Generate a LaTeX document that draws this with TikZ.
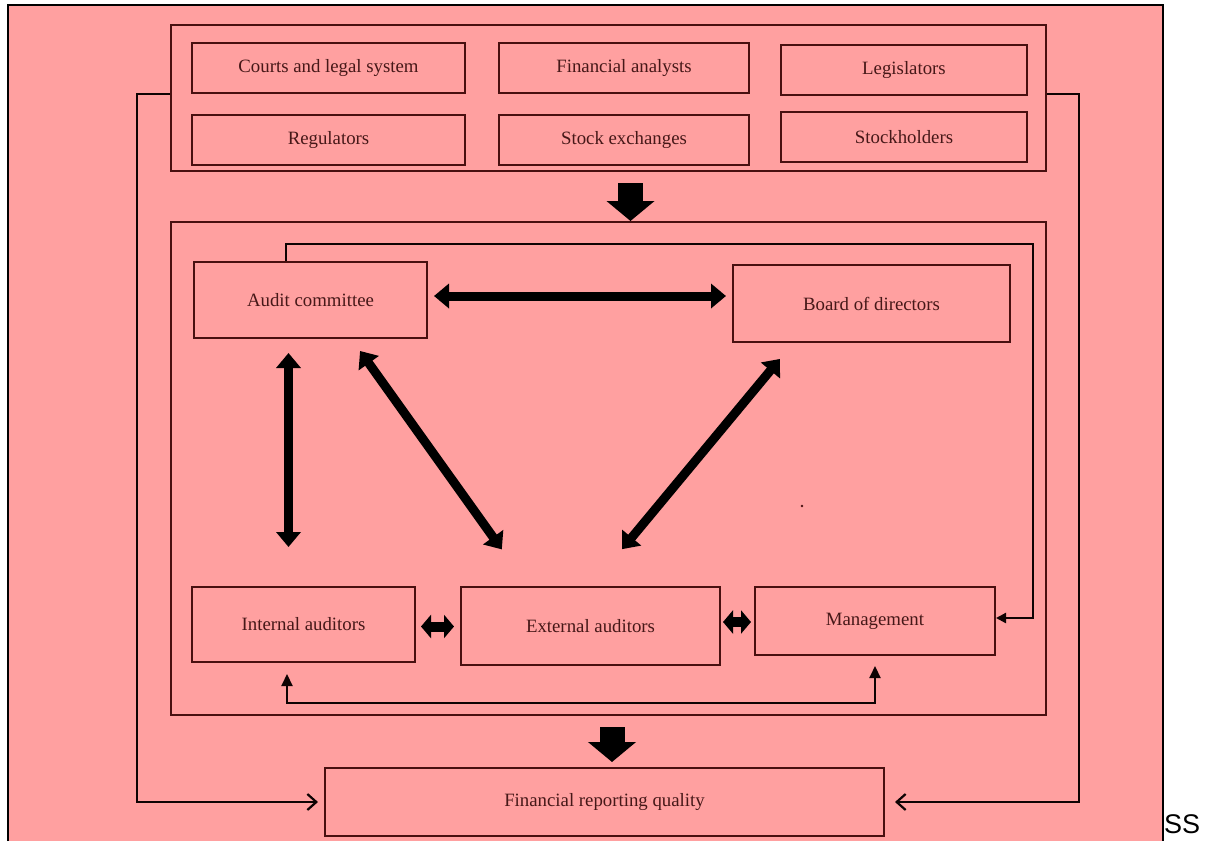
\documentclass[tikz,border=0pt]{standalone}
\usepackage{fontspec}
\setmainfont{Liberation Serif}
\newfontfamily\sansss{Liberation Sans}
\usetikzlibrary{arrows.meta,calc,positioning}
\definecolor{pinkbg}{RGB}{255,160,160}
\definecolor{boxline}{RGB}{72,16,16}
\definecolor{boxtext}{RGB}{70,24,24}

\begin{document}
\begin{tikzpicture}[x=1pt,y=-1pt,line join=miter]
    \tikzstyle{box}=[rectangle, draw=boxline, line width=2pt, text=boxtext, inner sep=0pt, font=\fontsize{18.8}{22}\selectfont]
    \tikzstyle{group}=[rectangle, draw=boxline, line width=2pt, inner sep=0pt]
    \tikzstyle{bigarrow}=[line width=9pt, {Triangle[length=15pt,width=24pt]}-{Triangle[length=15pt,width=24pt]}]
    \tikzstyle{shortarrow}=[line width=10pt, {Triangle[length=10pt,width=23pt]}-{Triangle[length=10pt,width=23pt]}]
    \tikzstyle{blockarrow}=[line width=25pt, -{Triangle[length=20pt,width=47pt]}]
    \tikzstyle{thinline}=[line width=2.2pt, draw=black!80!boxline]

    \useasboundingbox (0,0) rectangle (1205,841);
    \fill[pinkbg] (8,5) rectangle (1163,841);
    \draw[line width=1.5pt] (8,841) -- (8,5) -- (1163,5) -- (1163,841);

    % outside forces
    \node[group, minimum width=875pt, minimum height=146pt] (forces) at (608.5,98) {};
    \node[box, minimum width=273pt, minimum height=50pt] (courts)    at (328.5,68)  {Courts and legal system};
    \node[box, minimum width=273pt, minimum height=50pt] (regul)     at (328.5,140) {Regulators};
    \node[box, minimum width=250pt, minimum height=50pt] (analysts)  at (624,68)    {Financial analysts};
    \node[box, minimum width=250pt, minimum height=50pt] (exchanges) at (624,140)   {Stock exchanges};
    \node[box, minimum width=246pt, minimum height=50pt] (legis)     at (904,70)    {Legislators};
    \node[box, minimum width=246pt, minimum height=50pt] (stockh)    at (904,137)   {Stockholders};

    % corporate governance
    \node[group, minimum width=875pt, minimum height=493pt] (gov) at (608.5,468.5) {};
    \node[box, minimum width=233pt, minimum height=76pt] (audit)    at (310.5,300)   {Audit committee};
    \node[box, minimum width=277pt, minimum height=77pt] (board)    at (871.5,303.5) {Board of directors};
    \node[box, minimum width=223pt, minimum height=75pt] (internal) at (303.5,624.5) {Internal auditors};
    \node[box, minimum width=259pt, minimum height=78pt] (external) at (590.5,626)   {External auditors};
    \node[box, minimum width=240pt, minimum height=68pt] (mgmt)     at (875,621)     {Management};

    \node[box, minimum width=559pt, minimum height=68pt] (frq) at (604.5,802) {Financial reporting quality};

    \fill[boxline] (802,506) circle (1.3pt);
    \node[anchor=north west, inner sep=0pt, font=\sansss\fontsize{27}{27}\selectfont] (ss) at (1164,814) {SS};

    % block arrows
    \draw[blockarrow] ([xshift=22pt,yshift=-11pt]forces.south) -- ([xshift=22pt]gov.north);
    \draw[blockarrow, shorten >=5pt] ([xshift=3.5pt,yshift=-11pt]gov.south) -- ([xshift=7.5pt]frq.north);

    % relations inside
    \draw[bigarrow, shorten <=6pt, shorten >=6pt] ([yshift=4pt]audit.east) -- ([yshift=7.5pt]board.west);
    \draw[bigarrow, shorten <=14pt, shorten >=39pt] ([xshift=-22pt]audit.south) -- ([xshift=-15pt]internal.north);
    \draw[bigarrow, shorten <=14.7pt, shorten >=45pt] ([xshift=41pt]audit.south) -- ([xshift=-62.5pt]external.north);
    \draw[bigarrow, shorten <=20.7pt, shorten >=47.9pt] ([xshift=-78.3pt]board.south) -- ([xshift=1pt]external.north);
    \draw[shortarrow, shorten <=5pt, shorten >=6pt] ([yshift=-2pt]internal.east) -- ([yshift=-0.5pt]external.west);
    \draw[shortarrow, shorten <=2pt, shorten >=3pt] ([yshift=4pt]external.east) -- ([yshift=-1pt]mgmt.west);

    % feedback lines
    \draw[thinline, -{Triangle[length=10pt,width=10pt]}] ([xshift=-24.5pt]audit.north) -- ++(0,-17) -| ([xshift=37pt,yshift=3pt]mgmt.east) -- ([yshift=3pt]mgmt.east);
    \draw[thinline, {Triangle[length=12pt,width=11pt]}-{Triangle[length=12pt,width=11pt]}, shorten <=11pt, shorten >=10pt] ([xshift=-16.5pt]internal.south) -- ++(0,40) -| (mgmt.south);
    \draw[thinline, -{Straight Barb[length=9pt,width=16pt]}, shorten >=6pt] ([yshift=4pt]forces.west) -- ++(-33,0) |- (frq.west);
    \draw[thinline, -{Straight Barb[length=9pt,width=16pt]}, shorten >=10pt] ([yshift=4pt]forces.east) -- ++(32,0) |- (frq.east);
\end{tikzpicture}
\end{document}
